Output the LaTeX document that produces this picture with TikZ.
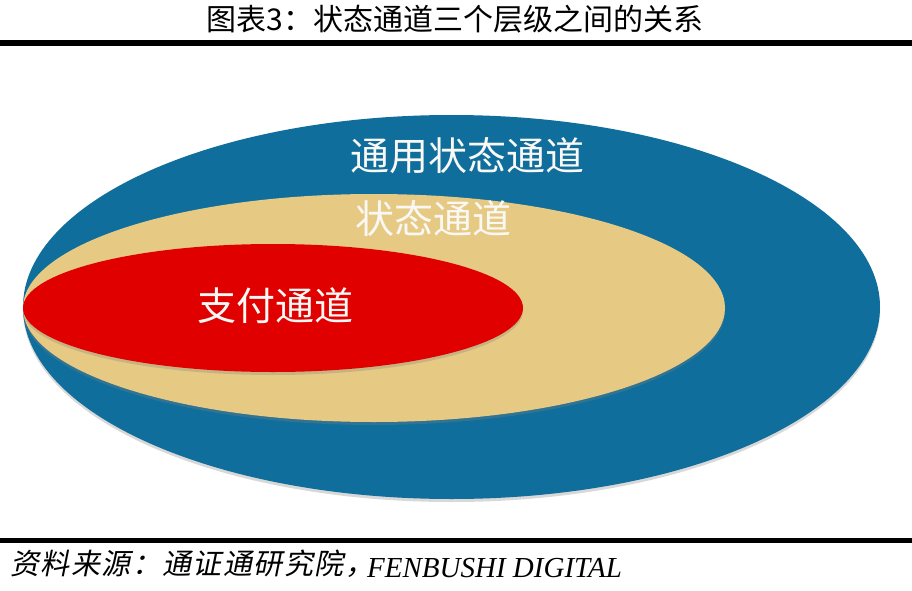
\documentclass[tikz,border=0pt]{standalone}
\usepackage{fontspec}
\setmainfont{Liberation Serif}
\newfontfamily\cjk{Noto Sans CJK SC}
\newfontfamily\cjkit[FakeSlant=0.2,LetterSpace=5]{Noto Sans CJK SC}
\usetikzlibrary{shapes.geometric,shadows}
\definecolor{outerblue}{RGB}{15,110,155}
\definecolor{midtan}{RGB}{230,202,132}
\definecolor{innerred}{RGB}{224,0,0}
\definecolor{labelwhite}{RGB}{250,248,245}
\tikzset{
  layer/.style={ellipse, inner sep=0pt, draw=none,
    drop shadow={opacity=0.3, shadow xshift=0pt, shadow yshift=-3pt}},
  layertext/.style={anchor=base, text=labelwhite, inner sep=0pt,
    font=\cjk\fontsize{39}{42}\selectfont},
  rule/.style={line width=#1, black}
}
\begin{document}
\begin{tikzpicture}[x=1pt,y=-1pt]
\useasboundingbox[fill=white] (0,0) rectangle (912,591);
% title and rules
\node[anchor=base, inner sep=0pt, font=\cjk\fontsize{30}{32}\selectfont] (title) at (455,31) {图表3：状态通道三个层级之间的关系};
\coordinate (tl) at (0,43);
\coordinate (tr) at (912,43);
\draw[rule=6pt] (tl) -- (tr);
\coordinate (bl) at (0,540.5);
\coordinate (br) at (912,540.5);
\draw[rule=5pt] (bl) -- (br);
% ellipses
\node[layer, fill=outerblue, minimum width=857pt, minimum height=384pt] (outer) at (451.5,307) {};
\node[layer, fill=midtan, minimum width=702pt, minimum height=228pt] (mid) at (374,308) {};
\node[layer, fill=innerred, minimum width=500pt, minimum height=128pt] (inner) at (273,308) {};
% labels
\node[layertext] (outerlabel) at (467,170) {通用状态通道};
\node[layertext] (midlabel) at (433,233) {状态通道};
\node[layertext] (innerlabel) at (275,320) {支付通道};
% source
\node[anchor=base west, inner sep=0pt, font=\cjkit\fontsize{29}{31}\selectfont] (srccjk) at (10,574) {资料来源：通证通研究院，};
\node[anchor=base west, inner sep=0pt, font=\itshape\fontsize{29}{31}\selectfont] (srclatin) at (367,577) {FENBUSHI DIGITAL};
\end{tikzpicture}
\end{document}
